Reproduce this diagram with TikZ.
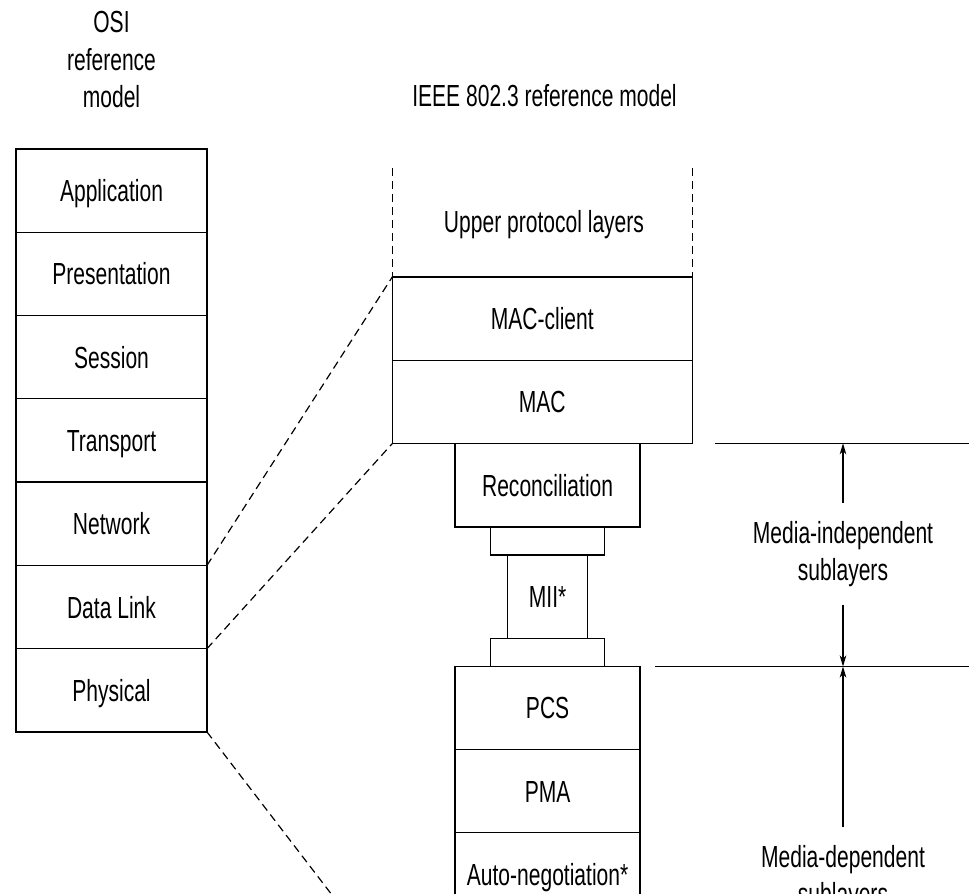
\documentclass[tikz,border=0pt]{standalone}
\usepackage{fontspec}
\setmainfont[FakeStretch=0.69]{Liberation Sans}
\usetikzlibrary{positioning,arrows.meta}

\tikzset{
	box/.style={draw, line width=1.3pt, outer sep=0pt, inner sep=0pt, text height=22pt, text depth=0pt, minimum height=83.3pt},
	osibox/.style={box, minimum width=191pt},
	macbox/.style={box, minimum width=300pt},
	subbox/.style={box, minimum width=185pt},
	thinbox/.style={box, minimum width=114pt, minimum height=28pt},
	miibox/.style={box, minimum width=80pt},
	heading/.style={align=center, inner sep=0pt},
	note/.style={align=center, inner xsep=0pt, inner ysep=18pt},
	guide/.style={line width=1.2pt, dash pattern=on 8pt off 5pt},
	rule/.style={line width=1.3pt},
	span/.style={line width=1.1pt, -{Stealth[length=11pt,width=6.5pt,inset=3pt]}}
}

\begin{document}
\begin{tikzpicture}[x=1pt,y=-1pt,font=\fontsize{30.5}{37.5}\selectfont]
	\useasboundingbox (0,0) rectangle (969,894);

	% OSI
	\node[heading] (osi) at (111.5,59.5) {OSI\\reference\\model};
	\node[osibox] (app) at (111.5,190.5) {Application};
	\node[osibox, below=0pt of app] (pre) {Presentation};
	\node[osibox, below=0pt of pre] (ses) {Session};
	\node[osibox, below=0pt of ses] (tra) {Transport};
	\node[osibox, below=0pt of tra] (net) {Network};
	\node[osibox, below=0pt of net] (dl) {Data Link};
	\node[osibox, below=0pt of dl] (phy) {Physical};

	% IEEE 802.3
	\node[heading, anchor=base] (ieee) at (544.5,106.7) {IEEE 802.3 reference model};
	\node[heading, anchor=base] (upl) at (544,232) {Upper protocol layers};
	\node[macbox] (mcl) at (542.3,318.6) {MAC-client};
	\node[macbox, below=0pt of mcl] (mac) {MAC};
	\node[subbox, below=0pt of mac, xshift=5.3pt] (rec) {Reconciliation};
	\node[thinbox, below=0pt of rec] (rs1) {};
	\node[miibox, below=0pt of rs1] (mii) {MII*};
	\node[thinbox, below=0pt of mii] (rs2) {};
	\node[subbox, below=0pt of rs2] (pcs) {PCS};
	\node[subbox, below=0pt of pcs] (pma) {PMA};
	\node[subbox, below=0pt of pma] (an) {Auto-negotiation*};

	\coordinate (ul) at (392.3,168);
	\coordinate (ur) at (692.3,168);
	\coordinate (lo) at (342,908);
	\draw[guide] (ul) -- (mcl.north west);
	\draw[guide] (ur) -- (mcl.north east);
	\draw[guide] (dl.north east) -- (mcl.north west);
	\draw[guide] (dl.south east) -- (mac.south west);
	\draw[guide] (phy.south east) -- (lo);

	% sublayers
	\coordinate (top0) at (715,443.3);
	\coordinate (top1) at (969,443.3);
	\coordinate (mid0) at (655,666.5);
	\coordinate (mid1) at (969,666.5);
	\draw[rule] (top0) -- (top1);
	\draw[rule] (mid0) -- (mid1);
	\node[note] (mind) at (843,554.3) {Media-independent\\sublayers};
	\node[note] (mdep) at (843,878) {Media-dependent\\sublayers};
	\draw[span] (mind) -- (mind |- top0);
	\draw[span] (mind) -- (mind |- mid0);
	\draw[span] (mdep) -- (mdep |- mid0);
\end{tikzpicture}
\end{document}
